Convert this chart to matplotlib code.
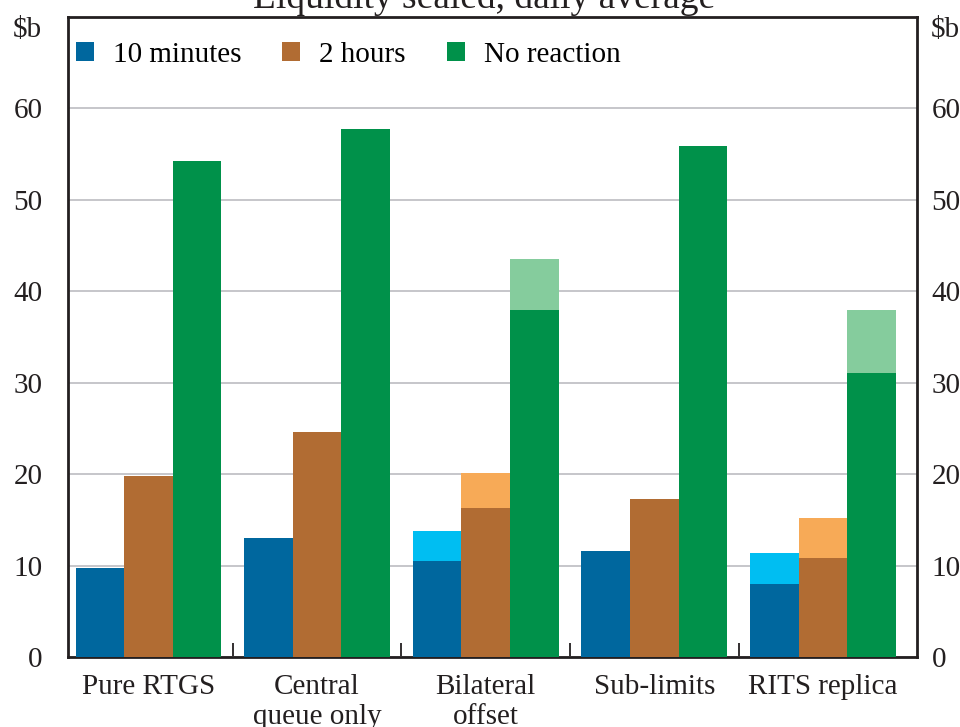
import matplotlib
matplotlib.use("Agg")
import matplotlib.pyplot as plt
from matplotlib.patches import Patch
import numpy as np

categories = ["Pure RTGS", "Central\nqueue only", "Bilateral\noffset", "Sub-limits", "RITS replica"]
series_names = ["10 minutes", "2 hours", "No reaction"]
# base (dark) values
min10 = [9.7, 13.0, 10.5, 11.6, 8.0]
hours2 = [19.8, 24.6, 16.3, 17.3, 10.8]
noreact = [54.2, 57.8, 37.9, 55.9, 31.1]
# upper (light) totals, None where no extension
min10_top = [None, None, 13.8, None, 11.4]
hours2_top = [None, None, 20.1, None, 15.2]
noreact_top = [None, None, 43.5, None, 38.0]
yticks = [0, 10, 20, 30, 40, 50, 60]

dark = ["#00679E", "#B16C33", "#00914A"]
light = ["#00BEF2", "#F7AA57", "#85CC9D"]
txt = '#231F20'
FS = 21

plt.rcParams['font.family'] = ['Liberation Serif', 'DejaVu Serif']
fig = plt.figure(figsize=(9.6, 7.27), dpi=100)
ax = fig.add_axes([68/960, 1-657/727, (917-68)/960, (657-17)/727])

x = np.arange(len(categories))
w = 0.288
offsets = [-w, 0, w]
for i, (base, top) in enumerate([(min10, min10_top), (hours2, hours2_top), (noreact, noreact_top)]):
    ax.bar(x + offsets[i], base, width=w, color=dark[i], zorder=3, linewidth=0)
    for j, t in enumerate(top):
        if t is not None:
            ax.bar(x[j] + offsets[i], t - base[j], bottom=base[j], width=w,
                   color=light[i], zorder=3, linewidth=0)

ax.set_xlim(-0.477, 4.558)
ax.set_ylim(0, 70)
ax.set_yticks(yticks)
ax.yaxis.grid(True, color="#C6C6CA", linewidth=1.4, zorder=0)
ax.set_axisbelow(True)
ax.tick_params(axis='y', length=0, labelsize=FS, pad=18.5, colors=txt)
ax.set_xticks(x)
ax.set_xticklabels(categories, fontsize=FS, linespacing=1.2, color=txt)
ax.tick_params(axis='x', length=0, pad=12)
ax.set_xticks(np.arange(0.5, len(categories) - 0.5, 1), minor=True)
ax.tick_params(axis='x', which='minor', direction='in', length=10, width=1.3, color=txt)
for s in ax.spines.values():
    s.set_linewidth(2)
    s.set_color(txt)

ax2 = ax.twinx()
ax2.set_ylim(ax.get_ylim())
ax2.set_yticks(yticks)
ax2.tick_params(axis='y', length=0, labelsize=FS, pad=10.5, colors=txt)
for s in ax2.spines.values():
    s.set_visible(False)

ax.text(-26/849, 68.6, "$b", transform=ax.get_yaxis_transform(), ha='right', va='center', fontsize=FS, color=txt)
ax.text(1 + 14/849, 68.6, "$b", transform=ax.get_yaxis_transform(), ha='left', va='center', fontsize=FS, color=txt)

handles = [Patch(facecolor=c, edgecolor='none') for c in dark]
ax2.legend(handles, series_names, loc='center left', ncol=3, frameon=False, fontsize=FS,
           bbox_to_anchor=(8/849, 1 - 38/640), handlelength=0.62, handleheight=0.62,
           handletextpad=0.65, columnspacing=1.4, borderaxespad=0, borderpad=0)

fig.text(0.504, 1 - 8/727, "Liquidity sealed, daily average", ha='center', va='baseline',
         fontsize=27, color=txt)

fig.savefig("out.png", dpi=100)
